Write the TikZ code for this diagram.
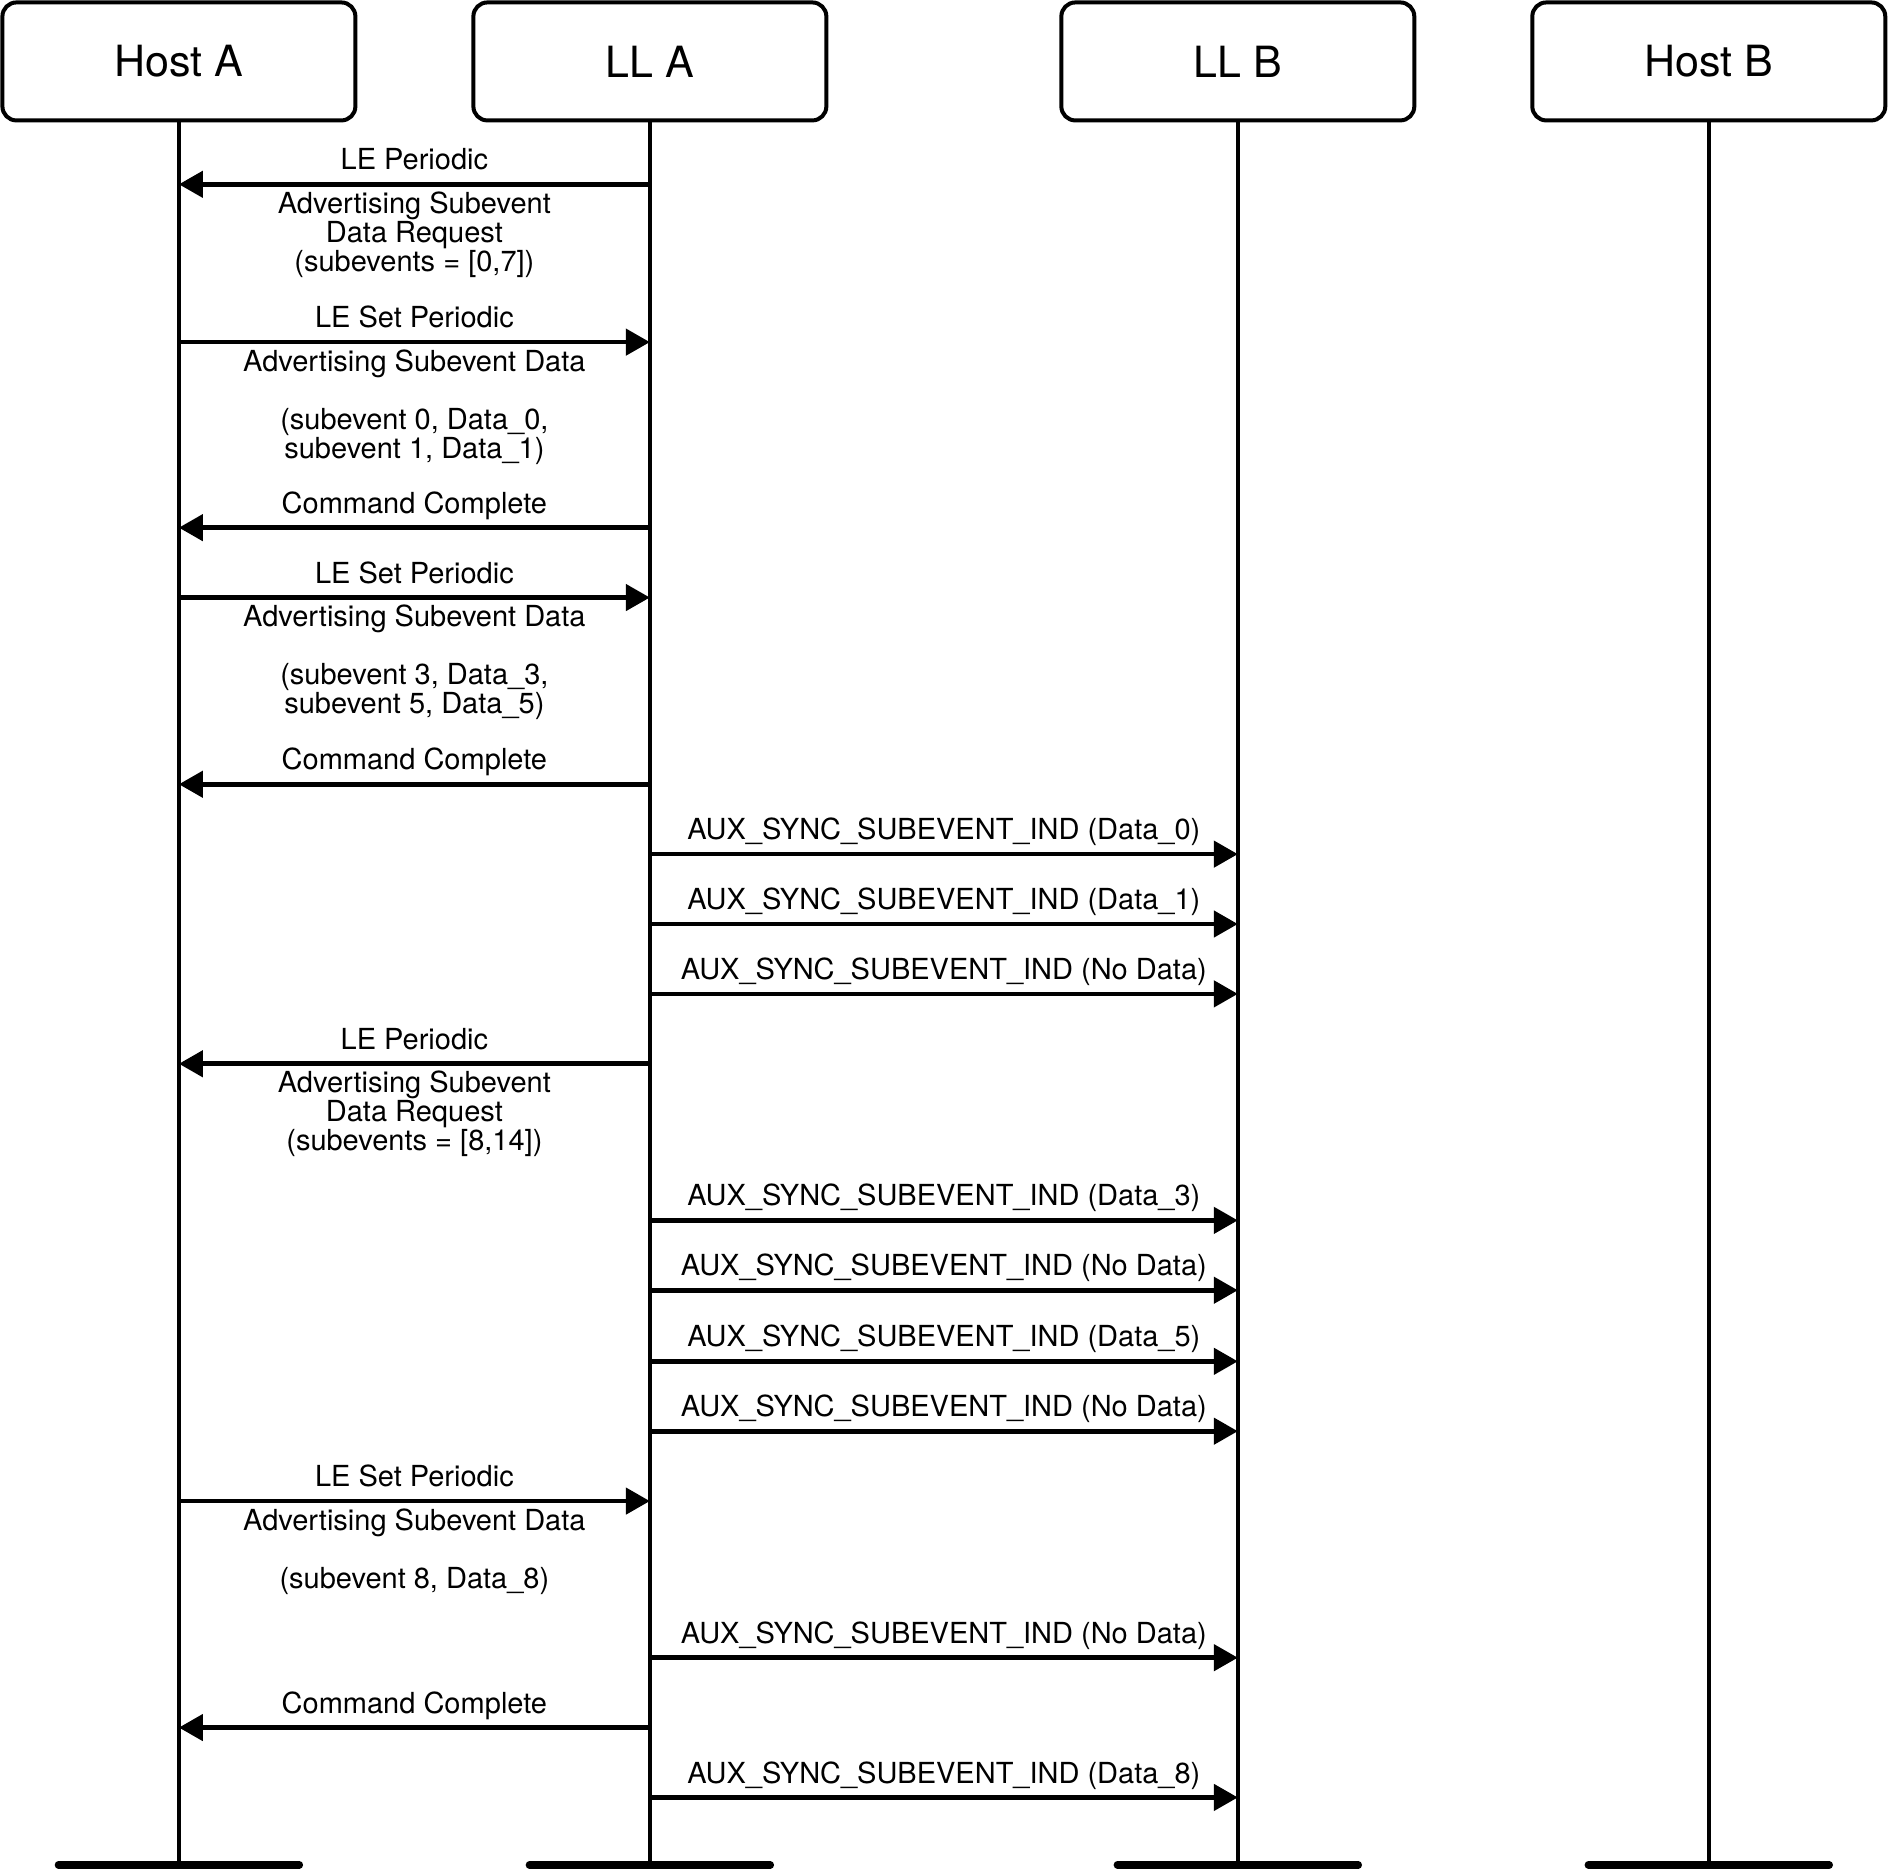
\documentclass[tikz,border=0pt]{standalone}
\usepackage{fontspec}
\setmainfont{TeX Gyre Heros}
\usepackage{tikz}
\usetikzlibrary{positioning, arrows.meta}
\tikzset{
    x=0.6024pt, y=-0.6024pt, % one unit is one pixel of the layout, y grows downwards
    >={Triangle[length=12pt, width=13pt]}, % solid arrow heads
    every node/.style={font=\fontsize{14.5pt}{14.5pt}\selectfont}, % message text
    head/.style={draw, line width=2pt, outer sep=0pt, rounded corners=7pt, minimum width=176.5pt, minimum height=59pt, font=\fontsize{21.5pt}{21.5pt}\selectfont},
    life/.style={line width=2pt}, % the lifelines
    stopbar/.style={line width=3.8pt, line cap=round}, % the bars at the bottom
    msg/.style={->, line width=2.3pt}, % the messages
    toptext/.style={midway, anchor=base, yshift=7.2pt, inner sep=0pt}, % text above a message
    subtext/.style={midway, anchor=north, yshift=-2.6pt, inner sep=0pt, align=center}, % text below a message
}

\begin{document}
\begin{tikzpicture}
    \useasboundingbox (0,0) rectangle (1568,1553);

    % the four parties
    \node[head] (hosta) at (148.5,51) {Host A};
    \node[head, right=59pt of hosta] (lla) {LL A};
    \node[head, right=117.5pt of lla] (llb) {LL B};
    \node[head, right=59pt of llb] (hostb) {Host B};

    % lifelines and their ends
    \foreach \p in {hosta, lla, llb, hostb} {
        \coordinate (\p end) at (\p |- 0,1548);
        \draw[life] (\p) -- (\p end);
        \draw[stopbar] ([xshift=-60.2pt]\p end) -- ([xshift=60.2pt]\p end);
    }

    % points of the messages on the lifelines
    \foreach \y [count=\k] in {153,284,438,496,651,709,767,825,883,1013,1071,1130,1188,1246,1376,1434,1492} {
        \coordinate (ha\k) at (hosta |- 0,\y);
        \coordinate (la\k) at (lla |- 0,\y);
        \coordinate (lb\k) at (llb |- 0,\y);
    }

    \draw[msg] (la1) -- (ha1) node[toptext] {LE Periodic}
        node[subtext] {Advertising Subevent\\Data Request\\(subevents = [0,7])};
    \draw[msg] (ha2) -- (la2) node[toptext] {LE Set Periodic}
        node[subtext] {Advertising Subevent Data\\[14.5pt](subevent 0, Data\_0,\\subevent 1, Data\_1)};
    \draw[msg] (la3) -- (ha3) node[toptext] {Command Complete};
    \draw[msg] (ha4) -- (la4) node[toptext] {LE Set Periodic}
        node[subtext] {Advertising Subevent Data\\[14.5pt](subevent 3, Data\_3,\\subevent 5, Data\_5)};
    \draw[msg] (la5) -- (ha5) node[toptext] {Command Complete};
    \draw[msg] (la6) -- (lb6) node[toptext] {AUX\_SYNC\_SUBEVENT\_IND (Data\_0)};
    \draw[msg] (la7) -- (lb7) node[toptext] {AUX\_SYNC\_SUBEVENT\_IND (Data\_1)};
    \draw[msg] (la8) -- (lb8) node[toptext] {AUX\_SYNC\_SUBEVENT\_IND (No Data)};
    \draw[msg] (la9) -- (ha9) node[toptext] {LE Periodic}
        node[subtext] {Advertising Subevent\\Data Request\\(subevents = [8,14])};
    \draw[msg] (la10) -- (lb10) node[toptext] {AUX\_SYNC\_SUBEVENT\_IND (Data\_3)};
    \draw[msg] (la11) -- (lb11) node[toptext] {AUX\_SYNC\_SUBEVENT\_IND (No Data)};
    \draw[msg] (la12) -- (lb12) node[toptext] {AUX\_SYNC\_SUBEVENT\_IND (Data\_5)};
    \draw[msg] (la13) -- (lb13) node[toptext] {AUX\_SYNC\_SUBEVENT\_IND (No Data)};
    \draw[msg] (ha14) -- (la14) node[toptext] {LE Set Periodic}
        node[subtext] {Advertising Subevent Data\\[14.5pt](subevent 8, Data\_8)};
    \draw[msg] (la15) -- (lb15) node[toptext] {AUX\_SYNC\_SUBEVENT\_IND (No Data)};
    \draw[msg] (la16) -- (ha16) node[toptext] {Command Complete};
    \draw[msg] (la17) -- (lb17) node[toptext] {AUX\_SYNC\_SUBEVENT\_IND (Data\_8)};

\end{tikzpicture}
\end{document}
